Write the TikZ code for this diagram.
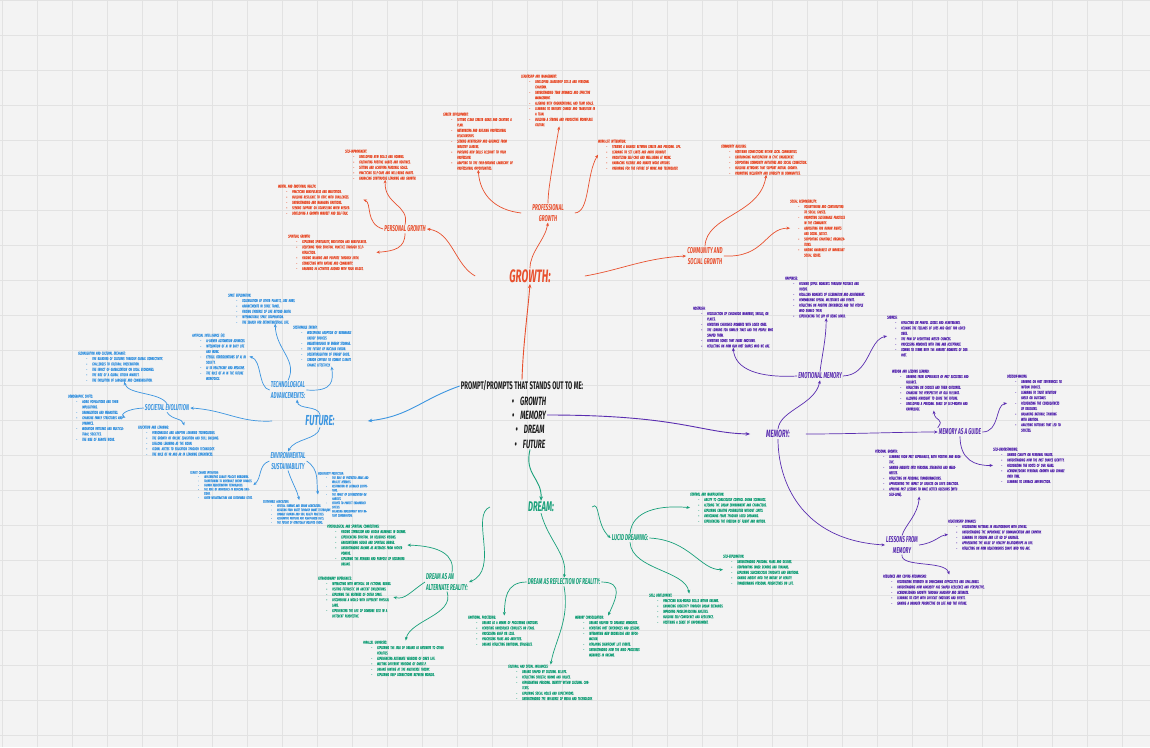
\documentclass[tikz,border=0pt]{standalone}
\usepackage{fontspec}
\usetikzlibrary{arrows.meta}
\newfontfamily\headfont[FakeStretch=0.55]{Fira Sans}
\newfontfamily\notefont[FakeStretch=0.58,FakeBold=0.8]{Fira Sans}
\definecolor{bgc}{HTML}{F3F3F3}
\definecolor{gridc}{HTML}{E2E2E2}
\definecolor{cgrow}{HTML}{E8502E}
\definecolor{cfut}{HTML}{3B95E0}
\definecolor{cmem}{HTML}{5A2DB0}
\definecolor{cdrm}{HTML}{17A079}
\definecolor{ink}{HTML}{1E1E1E}
% list item inside a note block: dash, hanging indent
\newcommand\itm{\par\hangindent=14pt\hangafter=1\hspace*{8pt}\makebox[6pt][l]{-}}
\tikzset{
  mainlbl/.style={inner ysep=1pt},
  sublbl/.style={font=\headfont\bfseries\itshape\fontsize{8.5}{10.5}\selectfont, inner sep=1pt, align=center},
  note/.style={anchor=north west, inner sep=0pt, align=left,
    font=\notefont\itshape\fontsize{4.1}{5.4}\selectfont},
  tinynote/.style={note, font=\notefont\itshape\fontsize{3.5}{4.2}\selectfont},
  link/.style={line width=0.7pt, -{Stealth[length=3.5pt,width=3pt]}},
  mainlink/.style={line width=0.9pt, -{Stealth[length=4.5pt,width=3.6pt]}},
  centertxt/.style={font=\headfont\bfseries\fontsize{11}{11}\selectfont, text=ink, inner sep=1pt},
  bullettxt/.style={centertxt, font=\headfont\bfseries\itshape\fontsize{12}{12}\selectfont},
}
\begin{document}
\begin{tikzpicture}[x=1pt,y=-1pt]
\useasboundingbox (0,0) rectangle (1150,747);
\fill[bgc] (0,0) rectangle (1150,747);
\foreach \gx in {2,37,...,1150} \draw[gridc, line width=0.6pt] (\gx,0) -- (\gx,747);
\foreach \gy in {0,35,...,747} \draw[gridc, line width=0.6pt] (0,\gy) -- (1150,\gy);

% ---------- centre ----------
\node[centertxt] (title) at (522,386) {PROMPT/PROMPTS THAT STANDS OUT TO ME:};
\node[bullettxt] (lg) at (529,401) {\textbullet\hspace{6pt}GROWTH};
\node[bullettxt] (lm) at (529,415) {\textbullet\hspace{6pt}MEMORY};
\node[bullettxt] (ld) at (530,429) {\textbullet\hspace{6pt}DREAM};
\node[bullettxt] (lf) at (530,444) {\textbullet\hspace{6pt}FUTURE};

% ---------- main branches ----------
\node[mainlbl, text=cgrow, inner xsep=34pt, font=\headfont\bfseries\itshape\fontsize{18}{18}\selectfont] (growth) at (530,276) {GROWTH:};
\node[mainlbl, text=cfut, inner xsep=33pt, font=\headfont\bfseries\itshape\fontsize{14.5}{14.5}\selectfont] (future) at (320,421) {FUTURE:};
\node[mainlbl, text=cmem, inner xsep=16pt, font=\headfont\bfseries\itshape\fontsize{10.5}{10.5}\selectfont] (memory) at (778,434) {MEMORY:};
\node[mainlbl, text=cdrm, inner xsep=38pt, font=\headfont\bfseries\itshape\fontsize{14}{14}\selectfont] (dream) at (541,507) {DREAM:};

\draw[mainlink, cgrow] (title.north) .. controls (523,345) and (528,310) .. (growth.south);
\draw[mainlink, cfut] (title.west) .. controls (420,400) and (410,416) .. (future.east);
\draw[mainlink, cmem] (lm.east) .. controls (680,415) and (700,433) .. (memory.west);
\draw[mainlink, cdrm] (lf.south) .. controls (524,475) and (542,478) .. (dream.north);

% ---------- growth ----------
\begin{scope}[text=cgrow]
\node[sublbl, inner xsep=11pt] (prof) at (548,213) {PROFESSIONAL\\GROWTH};
\node[sublbl] (pers) at (405,229) {PERSONAL GROWTH};
\node[sublbl] (comm) at (705,256) {COMMUNITY AND\\SOCIAL GROWTH};

\node[note, text width=70pt] (p1) at (443,112.5) {CAREER DEVELOPMENT:
\itm SETTING CLEAR CAREER GOALS AND CREATING A PLAN.
\itm NETWORKING AND BUILDING PROFESSIONAL RELATIONSHIPS.
\itm SEEKING MENTORSHIP AND GUIDANCE FROM INDUSTRY LEADERS.
\itm PURSUING NEW SKILLS RELEVANT TO YOUR PROFESSION.
\itm ADAPTING TO THE EVER-EVOLVING LANDSCAPE OF PROFESSIONAL OPPORTUNITIES.\par};
\node[note, text width=76pt] (p2) at (521,74.5) {LEADERSHIP AND MANAGEMENT:
\itm DEVELOPING LEADERSHIP SKILLS AND PERSONAL CHARISMA.
\itm UNDERSTANDING TEAM DYNAMICS AND EFFECTIVE MANAGEMENT.
\itm ALIGNING WITH ORGANIZATIONAL AND TEAM GOALS.
\itm LEARNING TO NAVIGATE CHANGE AND TRANSITION IN A TEAM.
\itm BUILDING A STRONG AND PRODUCTIVE WORKPLACE CULTURE.\par};
\node[note, text width=100pt] (p3) at (598,139.5) {WORK-LIFE INTEGRATION:
\itm STRIKING A BALANCE BETWEEN CAREER AND PERSONAL LIFE.
\itm LEARNING TO SET LIMITS AND AVOID BURNOUT.
\itm PRIORITIZING SELF-CARE AND WELL-BEING AT WORK.
\itm EMBRACING FLEXIBLE AND REMOTE WORK OPTIONS.
\itm PREPARING FOR THE FUTURE OF WORK AND TECHNOLOGY.\par};
\node[note, text width=80pt] (pg1) at (345,149.5) {SELF-IMPROVEMENT:
\itm DEVELOPING NEW SKILLS AND HOBBIES.
\itm CULTIVATING POSITIVE HABITS AND ROUTINES.
\itm SETTING AND ACHIEVING PERSONAL GOALS.
\itm PRACTICING SELF-CARE AND WELL-BEING HABITS.
\itm EMBRACING CONTINUOUS LEARNING AND GROWTH.\par};
\node[note, text width=85pt] (pg2) at (278,184.5) {MENTAL AND EMOTIONAL HEALTH:
\itm PRACTICING MINDFULNESS AND MEDITATION.
\itm BUILDING RESILIENCE TO COPE WITH CHALLENGES.
\itm UNDERSTANDING AND MANAGING EMOTIONS.
\itm SEEKING SUPPORT OR COUNSELING WHEN NEEDED.
\itm DEVELOPING A GROWTH MINDSET AND SELF-TALK.\par};
\node[note, text width=88pt] (pg3) at (288,234.5) {SPIRITUAL GROWTH:
\itm EXPLORING SPIRITUALITY, MEDITATION AND MINDFULNESS.
\itm DEEPENING YOUR SPIRITUAL PRACTICE THROUGH SELF-REFLECTION.
\itm FINDING MEANING AND PURPOSE THROUGH FAITH.
\itm CONNECTING WITH NATURE AND COMMUNITY.
\itm ENGAGING IN ACTIVITIES ALIGNED WITH YOUR VALUES.\par};
\node[note, text width=90pt] (c1) at (721,144.5) {COMMUNITY BUILDING:
\itm FOSTERING CONNECTIONS WITHIN LOCAL COMMUNITIES.
\itm ENCOURAGING PARTICIPATION IN CIVIC ENGAGEMENT.
\itm SUPPORTING COMMUNITY INITIATIVES AND SOCIAL CONNECTION.
\itm BUILDING NETWORKS THAT SUPPORT MUTUAL GROWTH.
\itm PROMOTING INCLUSIVITY AND DIVERSITY IN COMMUNITIES.\par};
\node[note, text width=55pt] (c2) at (790,199.5) {SOCIAL RESPONSIBILITY:
\itm VOLUNTEERING AND CONTRIBUTING TO SOCIAL CAUSES.
\itm PROMOTING SUSTAINABLE PRACTICES IN THE COMMUNITY.
\itm ADVOCATING FOR HUMAN RIGHTS AND SOCIAL JUSTICE.
\itm SUPPORTING CHARITABLE ORGANIZATIONS.
\itm RAISING AWARENESS OF IMPORTANT SOCIAL ISSUES.\par};
\end{scope}
\begin{scope}[color=cgrow]
\draw[link] (growth.west) .. controls (455,265) and (452,232) .. (pers.east);
\draw[link] (growth.north) .. controls (530,252) and (545,240) .. (prof.south);
\draw[link] (growth.east) .. controls (620,270) and (645,258) .. (comm.west);
\draw[link] (prof.west) .. controls (495,210) and (480,195) .. (p1.south);
\draw[link] (prof.north) .. controls (548,192) and (550,180) .. (p2.south);
\draw[link] (prof.east) .. controls (590,212) and (586,175) .. (p3.west);
\draw[link] (pers.north) .. controls (410,205) and (384,205) .. (pg1.south);
\draw[link] (pers.west) .. controls (365,224) and (372,203) .. (pg2.east);
\draw[link] (pers.south) .. controls (405,248) and (395,251) .. (pg3.east);
\draw[link] (comm.north) .. controls (706,215) and (760,215) .. (c1.south);
\draw[link] (comm.east) .. controls (765,258) and (765,228) .. (c2.west);
\end{scope}

% ---------- future ----------
\begin{scope}[text=cfut]
\node[sublbl, align=left] (tech) at (288,390) {TECHNOLOGICAL\\ADVANCEMENTS:};
\node[sublbl] (soc) at (167,408) {SOCIETAL EVOLUTION};
\node[sublbl] (env) at (288,461) {ENVIRONMENTAL\\SUSTAINABILITY};

\node[note, text width=72pt] (t1) at (228,293.5) {SPACE EXPLORATION:
\itm COLONIZATION OF OTHER PLANETS, LIKE MARS.
\itm ADVANCEMENTS IN SPACE TRAVEL.
\itm FINDING EVIDENCE OF LIFE BEYOND EARTH.
\itm INTERNATIONAL SPACE COOPERATION.
\itm THE SEARCH FOR EXTRATERRESTRIAL LIFE.\par};
\node[note, text width=65pt] (t2) at (293,325.5) {SUSTAINABLE ENERGY:
\itm WIDESPREAD ADOPTION OF RENEWABLE ENERGY SOURCES.
\itm BREAKTHROUGHS IN ENERGY STORAGE.
\itm THE FUTURE OF NUCLEAR FUSION.
\itm DECENTRALIZATION OF ENERGY GRIDS.
\itm CARBON CAPTURE TO COMBAT CLIMATE CHANGE EFFECTIVELY.\par};
\node[note, text width=57pt] (t3) at (192,333) {ARTIFICIAL INTELLIGENCE (AI):
\itm AI-DRIVEN AUTOMATION ADVANCES.
\itm INTEGRATION OF AI IN DAILY LIFE AND WORK.
\itm ETHICAL CONSIDERATIONS OF AI IN SOCIETY.
\itm AI IN HEALTHCARE AND MEDICINE.
\itm THE ROLE OF AI IN THE FUTURE WORKFORCE.\par};
\node[note, text width=92pt] (s1) at (78,351.5) {GLOBALIZATION AND CULTURAL EXCHANGE:
\itm THE BLENDING OF CULTURES THROUGH GLOBAL CONNECTIVITY.
\itm CHALLENGES TO CULTURAL PRESERVATION.
\itm THE IMPACT OF GLOBALIZATION ON LOCAL ECONOMIES.
\itm THE RISE OF A GLOBAL CITIZEN MINDSET.
\itm THE EVOLUTION OF LANGUAGE AND COMMUNICATION.\par};
\node[note, text width=57pt] (s2) at (68,394.5) {DEMOGRAPHIC SHIFTS:
\itm AGING POPULATIONS AND THEIR IMPLICATIONS.
\itm URBANIZATION AND MEGACITIES.
\itm CHANGING FAMILY STRUCTURES AND DYNAMICS.
\itm MIGRATION PATTERNS AND MULTICULTURAL SOCIETIES.
\itm THE RISE OF REMOTE WORK.\par};
\node[note, text width=92pt] (s3) at (138,425.5) {EDUCATION AND LEARNING:
\itm PERSONALIZED AND ADAPTIVE LEARNING TECHNOLOGIES.
\itm THE GROWTH OF ONLINE EDUCATION AND SKILL BUILDING.
\itm LIFELONG LEARNING AS THE NORM.
\itm GLOBAL ACCESS TO EDUCATION THROUGH TECHNOLOGY.
\itm THE ROLE OF VR AND AR IN LEARNING EXPERIENCES.\par};
\node[tinynote, text width=63pt] (e1) at (190,471) {CLIMATE CHANGE MITIGATION:
\itm IMPLEMENTING CLIMATE POLICIES WORLDWIDE.
\itm TRANSITIONING TO RENEWABLE ENERGY SOURCES.
\itm CARBON SEQUESTRATION TECHNOLOGIES.
\itm THE ROLE OF INDIVIDUALS IN REDUCING EMISSIONS.
\itm GREEN INFRASTRUCTURE AND SUSTAINABLE CITIES.\par};
\node[tinynote, text width=52pt] (e2) at (318,472) {BIODIVERSITY PROTECTION:
\itm THE ROLE OF PROTECTED AREAS AND WILDLIFE RESERVES.
\itm RESTORATION OF DEGRADED ECOSYSTEMS.
\itm THE IMPACT OF DEFORESTATION ON HABITATS.
\itm EFFORTS TO PROTECT ENDANGERED SPECIES.
\itm BALANCING DEVELOPMENT WITH NATURE CONSERVATION.\par};
\node[tinynote, text width=72pt] (e3) at (263,500) {SUSTAINABLE AGRICULTURE:
\itm VERTICAL FARMING AND URBAN AGRICULTURE.
\itm REDUCING FOOD WASTE THROUGH SMART TECHNOLOGY.
\itm ORGANIC FARMING AND SOIL HEALTH PRACTICES.
\itm ALTERNATIVE PROTEINS AND PLANT-BASED DIETS.
\itm THE FUTURE OF GENETICALLY MODIFIED CROPS.\par};
\end{scope}
\begin{scope}[color=cfut]
\draw[link] (future.north) .. controls (318,405) and (298,410) .. ([xshift=9pt]tech.south);
\draw[link] (future.west) .. controls (240,423) and (225,410) .. (soc.east);
\draw[link] (future.south) .. controls (318,440) and (295,438) .. (env.north);
\draw[link] (tech.north) .. controls (298,360) and (276,350) .. ([xshift=11pt]t1.south);
\draw[link] (tech.east) .. controls (334,392) and (333,380) .. ([xshift=6pt]t2.south);
\draw[link] (tech.west) .. controls (258,388) and (262,360) .. (t3.east);
\draw[link] (soc.north) .. controls (160,392) and (128,395) .. (s1.south);
\draw[link] (soc.west) .. controls (125,409) and (120,415) .. (s2.east);
\draw[link] (soc.south) .. controls (172,420) and (182,418) .. (s3.north);
\draw[link] (env.west) .. controls (258,465) and (262,478) .. (e1.east);
\draw[link] (env.east) .. controls (320,470) and (316,482) .. (e2.west);
\draw[link] (env.south) .. controls (293,485) and (297,490) .. (e3.north);
\end{scope}

% ---------- memory ----------
\begin{scope}[text=cmem]
\node[sublbl] (emo) at (820,376) {EMOTIONAL MEMORY};
\node[sublbl] (guide) at (960,432) {MEMORY AS A GUIDE};
\node[sublbl] (lessons) at (902,545) {LESSONS FROM\\MEMORY};

\node[note, text width=80pt] (m1) at (693,306.5) {NOSTALGIA:
\itm RECOLLECTION OF CHILDHOOD MEMORIES, SMELLS, OR PLACES.
\itm REVISITING CHERISHED MOMENTS WITH LOVED ONES.
\itm THE LONGING FOR SIMPLER TIMES AND THE PEOPLE WHO SHAPED THEM.
\itm REVISITING SONGS THAT EVOKE EMOTIONS.
\itm REFLECTING ON HOW OUR PAST SHAPES WHO WE ARE.\par};
\node[note, text width=82pt] (m2) at (785,276.5) {HAPPINESS:
\itm RELIVING JOYFUL MOMENTS THROUGH PICTURES AND VIDEOS.
\itm RECALLING MOMENTS OF CELEBRATION AND ACHIEVEMENT.
\itm REMEMBERING SPECIAL MILESTONES AND EVENTS.
\itm REFLECTING ON POSITIVE EXPERIENCES AND THE PEOPLE WHO SHARED THEM.
\itm EXPERIENCING THE JOY OF BEING LOVED.\par};
\node[note, text width=85pt] (m3) at (887,315.5) {SADNESS:
\itm REFLECTING ON PAINFUL LOSSES AND HEARTBREAKS.
\itm RELIVING THE FEELINGS OF LOSS AND GRIEF FOR LOVED ONES.
\itm THE PAIN OF REGRETTING MISSED CHANCES.
\itm PROCESSING MEMORIES WITH TIME AND ACCEPTANCE.
\itm COMING TO TERMS WITH THE HARDEST MOMENTS OF OUR PAST.\par};
\node[note, text width=83pt] (m4) at (892,369.5) {WISDOM AND LESSONS LEARNED:
\itm DRAWING FROM EXPERIENCES OF PAST SUCCESSES AND FAILURES.
\itm REFLECTING ON CHOICES AND THEIR OUTCOMES.
\itm CHANGING THE PERSPECTIVE OF OLD FEELINGS.
\itm ALLOWING HINDSIGHT TO GUIDE THE FUTURE.
\itm DEVELOPING A PERSONAL SENSE OF SELF-WORTH AND KNOWLEDGE.\par};
\node[note, text width=55pt] (m5) at (1007,374.5) {DECISION-MAKING:
\itm DRAWING ON PAST EXPERIENCES TO INFORM CHOICES.
\itm LEARNING TO TRUST INTUITION BASED ON OUTCOMES.
\itm RECOGNIZING THE CONSEQUENCES OF DECISIONS.
\itm BALANCING RATIONAL THINKING WITH EMOTION.
\itm ANALYZING PATTERNS THAT LED TO SUCCESS.\par};
\node[note, text width=72pt] (m6) at (993,447.5) {SELF-UNDERSTANDING:
\itm GAINING CLARITY ON PERSONAL VALUES.
\itm UNDERSTANDING HOW THE PAST SHAPES IDENTITY.
\itm RECOGNIZING THE ROOTS OF OUR FEARS.
\itm ACKNOWLEDGING PERSONAL GROWTH AND CHANGE OVER TIME.
\itm LEARNING TO EMBRACE IMPERFECTION.\par};
\node[note, text width=88pt] (m7) at (875,449.5) {PERSONAL GROWTH:
\itm LEARNING FROM PAST EXPERIENCES, BOTH POSITIVE AND NEGATIVE.
\itm GAINING INSIGHTS INTO PERSONAL STRENGTHS AND WEAKNESSES.
\itm REFLECTING ON PERSONAL TRANSFORMATIONS.
\itm APPRECIATING THE IMPACT OF CHOICES ON LIFE'S DIRECTION.
\itm APPLYING PAST LESSONS TO MAKE BETTER DECISIONS (WITH SELF-LOVE).\par};
\node[note, text width=100pt] (m8) at (948,519.5) {RELATIONSHIP DYNAMICS:
\itm RECOGNIZING PATTERNS IN RELATIONSHIPS WITH OTHERS.
\itm UNDERSTANDING THE IMPORTANCE OF COMMUNICATION AND EMPATHY.
\itm LEARNING TO FORGIVE AND LET GO OF GRUDGES.
\itm APPRECIATING THE VALUE OF HEALTHY RELATIONSHIPS IN LIFE.
\itm REFLECTING ON HOW RELATIONSHIPS SHAPE WHO YOU ARE.\par};
\node[note, text width=112pt] (m9) at (883,574.5) {RESILIENCE AND COPING MECHANISMS:
\itm RECOGNIZING STRENGTH IN OVERCOMING DIFFICULTIES AND CHALLENGES.
\itm UNDERSTANDING HOW ADVERSITY HAS SHAPED RESILIENCE AND PERSPECTIVE.
\itm ACKNOWLEDGING GROWTH THROUGH HARDSHIP AND SETBACKS.
\itm LEARNING TO COPE WITH DIFFICULT EMOTIONS AND EVENTS.
\itm GAINING A BROADER PERSPECTIVE ON LIFE AND THE FUTURE.\par};
\end{scope}
\begin{scope}[color=cmem]
\draw[link] (memory.north) .. controls (780,410) and (815,405) .. (emo.south);
\draw[link] (memory.east) .. controls (850,434) and (900,432) .. (guide.west);
\draw[link] (memory.south) .. controls (778,480) and (800,540) .. (lessons.west);
\draw[link] (emo.west) .. controls (760,378) and (735,370) .. (m1.south);
\draw[link] (emo.north) .. controls (822,355) and (826,340) .. (m2.south);
\draw[link] (emo.east) .. controls (870,375) and (868,340) .. (m3.west);
\draw[link] (guide.north west) .. controls (945,418) and (935,422) .. (m4.south);
\draw[link] (guide.east) .. controls (1000,432) and (995,405) .. (m5.west);
\draw[link] (guide.south) .. controls (960,460) and (975,466) .. (m6.west);
\draw[link] (lessons.north) .. controls (905,525) and (918,515) .. (m7.south);
\draw[link] (lessons.east) .. controls (935,543) and (940,535) .. (m8.west);
\draw[link] (lessons.south) .. controls (900,568) and (945,560) .. ([xshift=10pt]m9.north);
\end{scope}

% ---------- dream ----------
\begin{scope}[text=cdrm]
\node[sublbl] (lucid) at (630,538) {LUCID DREAMING:};
\node[sublbl, align=left] (alt) at (447,582) {DREAM AS AN\\ALTERNATE REALITY:};
\node[sublbl] (refl) at (564,582) {DREAM AS REFLECTION OF REALITY:};

\node[note, text width=80pt] (d1) at (327,524.5) {PSYCHOLOGICAL AND SPIRITUAL CONNECTIONS:
\itm FINDING SYMBOLISM AND HIDDEN MEANINGS IN DREAMS.
\itm EXPERIENCING SPIRITUAL OR RELIGIOUS VISIONS.
\itm ENCOUNTERING GUIDES AND SPIRITUAL BEINGS.
\itm UNDERSTANDING DREAMS AS MESSAGES FROM HIGHER POWERS.
\itm EXPLORING THE MEANING AND PURPOSE OF RECURRING DREAMS.\par};
\node[note, text width=75pt] (d2) at (318,576.5) {EXTRAORDINARY EXPERIENCES:
\itm INTERACTING WITH MYTHICAL OR FICTIONAL BEINGS.
\itm VISITING FUTURISTIC OR ANCIENT CIVILIZATIONS.
\itm EXPLORING THE VASTNESS OF OUTER SPACE.
\itm DISCOVERING A WORLD WITH DIFFERENT PHYSICAL LAWS.
\itm EXPERIENCING THE LIFE OF SOMEONE ELSE IN A DIFFERENT PERSPECTIVE.\par};
\node[note, text width=85pt] (d3) at (363,640.5) {PARALLEL UNIVERSES:
\itm EXPLORING THE IDEA OF DREAMS AS GATEWAYS TO OTHER REALITIES.
\itm EXPERIENCING ALTERNATE VERSIONS OF ONE'S LIFE.
\itm MEETING DIFFERENT VERSIONS OF ONESELF.
\itm DREAMS HINTING AT THE MULTIVERSE THEORY.
\itm EXPLORING DEEP CONNECTIONS BETWEEN WORLDS.\par};
\node[note, text width=72pt] (d4) at (468,615.5) {EMOTIONAL PROCESSING:
\itm DREAMS AS A MEANS OF PROCESSING EMOTIONS.
\itm REVISITING UNRESOLVED CONFLICTS OR FEARS.
\itm PROCESSING GRIEF OR LOSS.
\itm PROCESSING FEARS AND ANXIETIES.
\itm DREAMS REFLECTING EMOTIONAL STRUGGLES.\par};
\node[note, text width=66pt] (d5) at (575,615.5) {MEMORY CONSOLIDATION:
\itm DREAMS HELPING TO ORGANIZE MEMORIES.
\itm REVISITING PAST EXPERIENCES AND LESSONS.
\itm INTEGRATING NEW KNOWLEDGE AND INFORMATION.
\itm REPLAYING SIGNIFICANT LIFE EVENTS.
\itm UNDERSTANDING HOW THE MIND PROCESSES MEMORIES IN DREAMS.\par};
\node[note, text width=85pt] (d6) at (508,664.5) {CULTURAL AND SOCIAL INFLUENCES:
\itm DREAMS SHAPED BY CULTURAL BELIEFS.
\itm REFLECTING SOCIETAL NORMS AND VALUES.
\itm REPRESENTING PERSONAL IDENTITY WITHIN CULTURAL CONTEXTS.
\itm EXPLORING SOCIAL ROLES AND EXPECTATIONS.
\itm UNDERSTANDING THE INFLUENCE OF MEDIA AND TECHNOLOGY.\par};
\node[note, text width=80pt] (d7) at (690,492.5) {CONTROL AND MANIPULATION:
\itm ABILITY TO CONSCIOUSLY CONTROL DREAM SCENARIOS.
\itm ALTERING THE DREAM ENVIRONMENT AND CHARACTERS.
\itm EXPLORING CREATIVE POSSIBILITIES WITHOUT LIMITS.
\itm OVERCOMING FEARS THROUGH LUCID DREAMING.
\itm EXPERIENCING THE FREEDOM OF FLIGHT AND MOTION.\par};
\node[note, text width=80pt] (d8) at (723,554.5) {SELF-EXPLORATION:
\itm UNDERSTANDING PERSONAL FEARS AND DESIRES.
\itm CONFRONTING INNER DEMONS AND TRAUMAS.
\itm EXPLORING SUBCONSCIOUS THOUGHTS AND EMOTIONS.
\itm GAINING INSIGHT INTO THE NATURE OF REALITY.
\itm TRANSFORMING PERSONAL PERSPECTIVES ON LIFE.\par};
\node[note, text width=80pt] (d9) at (649,593.5) {SKILL DEVELOPMENT:
\itm PRACTICING REAL-WORLD SKILLS WITHIN DREAMS.
\itm ENHANCING CREATIVITY THROUGH DREAM SCENARIOS.
\itm IMPROVING PROBLEM-SOLVING ABILITIES.
\itm BUILDING SELF-CONFIDENCE AND RESILIENCE.
\itm FOSTERING A SENSE OF EMPOWERMENT.\par};
\end{scope}
\begin{scope}[color=cdrm]
\draw[link] (dream.east) .. controls (600,500) and (596,525) .. (lucid.west);
\draw[link] (dream.west) .. controls (470,515) and (500,570) .. (alt.east);
\draw[link] (dream.south) .. controls (548,540) and (568,555) .. (refl.north);
\draw[link] (lucid.north) .. controls (632,510) and (660,505) .. (d7.west);
\draw[link] (lucid.east) .. controls (690,540) and (700,570) .. (d8.west);
\draw[link] (lucid.south) .. controls (632,570) and (685,570) .. (d9.north);
\draw[link] ([xshift=5pt]alt.north) .. controls (455,555) and (440,546) .. (d1.east);
\draw[link] (alt.west) .. controls (410,592) and (405,600) .. (d2.east);
\draw[link] (alt.south) .. controls (455,615) and (410,620) .. (d3.north);
\draw[link] (refl.west) .. controls (505,582) and (505,600) .. (d4.north);
\draw[link] (refl.east) .. controls (625,582) and (615,600) .. (d5.north);
\draw[link] (refl.south) .. controls (570,620) and (555,640) .. (d6.north);
\end{scope}
\end{tikzpicture}
\end{document}
